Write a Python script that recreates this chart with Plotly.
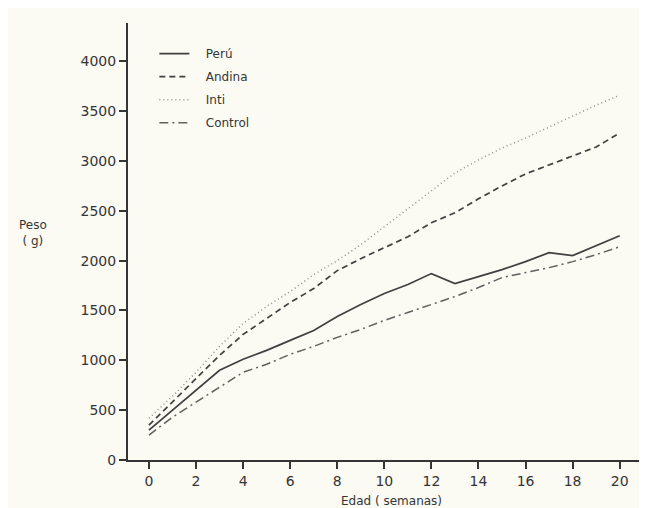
import plotly.graph_objects as go

weeks = list(range(0, 21))
peru = [300, 500, 700, 900, 1010, 1100, 1200, 1300, 1440, 1560, 1670, 1760, 1870, 1770, 1840, 1910, 1990, 2080, 2050, 2150, 2250]
andina = [350, 580, 820, 1050, 1260, 1420, 1580, 1720, 1900, 2020, 2130, 2240, 2380, 2480, 2620, 2750, 2870, 2960, 3050, 3140, 3280]
inti = [420, 640, 880, 1140, 1370, 1540, 1690, 1860, 2000, 2160, 2340, 2520, 2700, 2880, 3010, 3130, 3230, 3340, 3450, 3560, 3660]
control = [250, 430, 580, 730, 880, 960, 1060, 1140, 1230, 1310, 1400, 1480, 1560, 1640, 1730, 1830, 1880, 1930, 1990, 2060, 2140]

series = [
    ("Perú", peru, "solid", "#404040", 1.7),
    ("Andina", andina, "6px,4px", "#404040", 1.7),
    ("Inti", inti, "1px,3px", "#909090", 1.5),
    ("Control", control, "9px,4px,2px,4px", "#606060", 1.5),
]

x_ticks = list(range(0, 21, 2))
y_ticks = list(range(0, 4001, 500))

fig = go.Figure()
for i, (name, vals, dash, color, w) in enumerate(series):
    fig.add_trace(go.Scatter(
        x=weeks, y=vals, name="\u00a0\u00a0\u00a0" + name, mode="lines",
        line=dict(color=color, width=w, dash=dash),
        legendgroup=f"g{i}",
    ))

font = "DejaVu Sans, Verdana, sans-serif"
ink = "#353535"
fig.update_layout(
    width=647, height=508,
    margin=dict(l=120, r=0, t=15, b=56),
    paper_bgcolor="#fbfaf3",
    plot_bgcolor="#fbfaf3",
    font=dict(family=font, size=14, color=ink),
    showlegend=True,
    legend=dict(
        x=0.05, y=0.963, xanchor="left", yanchor="top",
        bgcolor="rgba(0,0,0,0)", font=dict(size=12, color=ink),
        tracegroupgap=4,
    ),
    xaxis=dict(
        range=[-0.89, 21.5], tickvals=x_ticks, ticktext=[str(v) for v in x_ticks],
        showgrid=False, zeroline=False, showline=True, linecolor=ink, linewidth=2,
        ticks="outside", ticklen=7, tickwidth=2, tickcolor=ink,
        tickfont=dict(size=14),
        title=dict(text="Edad ( semanas)", font=dict(size=12), standoff=9),
    ),
    yaxis=dict(
        range=[0, 4384], tickvals=y_ticks, ticktext=[str(v) for v in y_ticks],
        showgrid=False, zeroline=False, showline=True, linecolor=ink, linewidth=2,
        ticks="outside", ticklen=7, tickwidth=2, tickcolor=ink,
        tickfont=dict(size=14),
    ),
    annotations=[dict(
        text="Peso<br>( g)", xref="paper", yref="paper",
        x=-0.18, y=0.52, xanchor="center", yanchor="middle",
        showarrow=False, font=dict(size=12, color=ink),
    )],
)

fig.write_html("out.html")
